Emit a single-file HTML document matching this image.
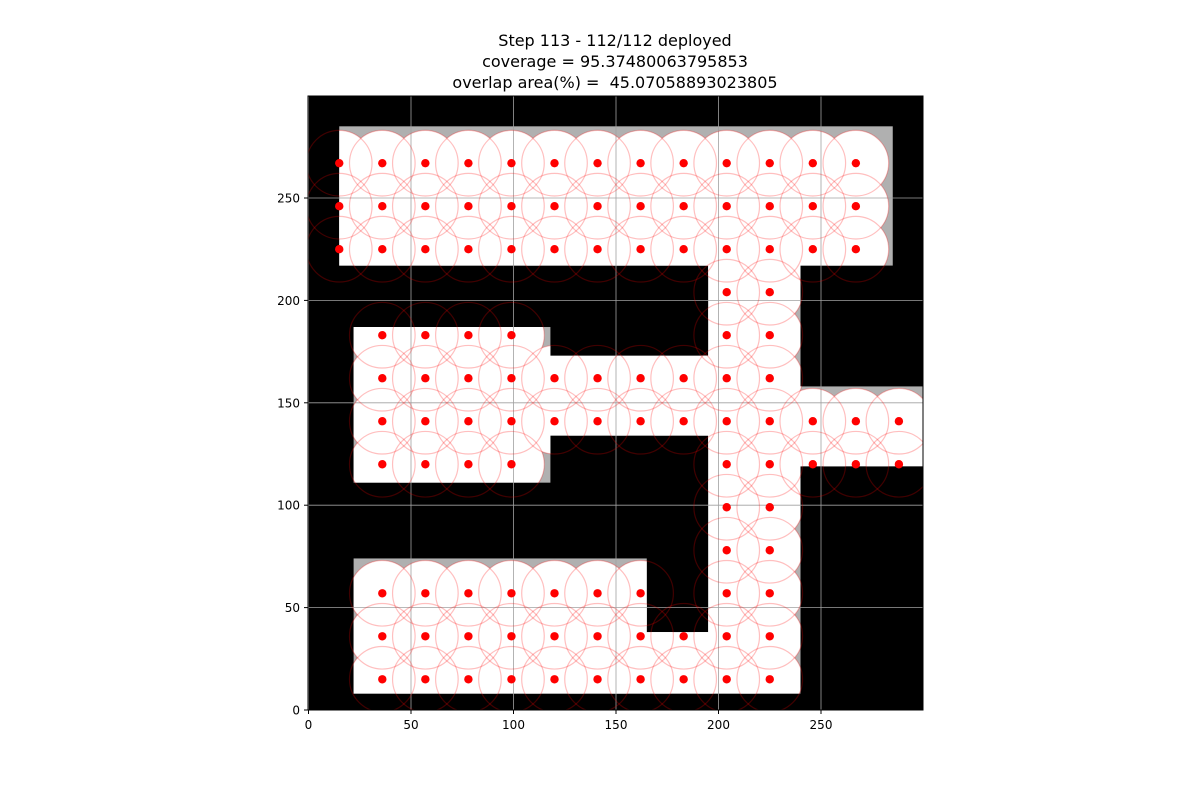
<!DOCTYPE html>
<html><head><meta charset="utf-8"><style>
body{margin:0;background:#fff;font-family:"DejaVu Sans","Liberation Sans",sans-serif}
</style></head><body>
<svg id="chart" width="1200" height="800" style="display:block;font-family:'DejaVu Sans','Liberation Sans',sans-serif">
<text x="615" y="46" text-anchor="middle" font-size="16">Step 113 - 112/112 deployed</text>
<text x="615" y="67" text-anchor="middle" font-size="16">coverage = 95.37480063795853</text>
<text x="615" y="88" text-anchor="middle" font-size="16">overlap area(%) = &#160;45.07058893023805</text>
<defs><clipPath id="plotclip"><rect x="308" y="96" width="615" height="614"/></clipPath></defs>
<g id="plot" clip-path="url(#plotclip)"></g>
<rect x="308" y="96" width="615" height="614" fill="none" stroke="#000" stroke-width="1"/>
<g id="axes"></g>
</svg>
<script>
const xTicks=[0,50,100,150,200,250];
const yTicks=[0,50,100,150,200,250];
// free-space rectangles [x0,y0,x1,y1]
const freeRects=[[15,217,285,285],[195,8,240,217],[22,111,118,187],[118,134,195,173],[240,119,300,158],[22,8,165,74],[165,8,195,38]];
const rowY=[267,246,225,204,183,162,141,120,99,78,57,36,15];
const rowXs=[
[15,36,57,78,99,120,141,162,183,204,225,246,267],
[15,36,57,78,99,120,141,162,183,204,225,246,267],
[15,36,57,78,99,120,141,162,183,204,225,246,267],
[204,225],
[36,57,78,99,204,225],
[36,57,78,99,120,141,162,183,204,225],
[36,57,78,99,120,141,162,183,204,225,246,267,288],
[36,57,78,99,204,225,246,267,288],
[204,225],
[204,225],
[36,57,78,99,120,141,162,204,225],
[36,57,78,99,120,141,162,183,204,225],
[36,57,78,99,120,141,162,183,204,225]];
const sensorRadius=16;
const NS="http://www.w3.org/2000/svg";
const sx=v=>308.5+v*2.05, sy=v=>710-v*2.048;
const plot=document.getElementById('plot'), axes=document.getElementById('axes'), svg=document.getElementById('chart');
function mk(t,a,p){const e=document.createElementNS(NS,t);for(const k in a)e.setAttribute(k,a[k]);(p||plot).appendChild(e);return e;}
const bg=mk('rect',{x:308,y:96,width:615,height:614,fill:'#000'});


const defs=svg.querySelector('defs');
const cp=mk('clipPath',{id:'freeclip'},defs);
freeRects.forEach(r=>{
 mk('rect',{x:sx(r[0]),y:sy(r[3]),width:sx(r[2])-sx(r[0]),height:sy(r[1])-sy(r[3])},cp);
 const g=mk('rect',{x:sx(r[0]),y:sy(r[3]),width:sx(r[2])-sx(r[0]),height:sy(r[1])-sy(r[3]),fill:'#b0b0b0'});
 
 
});
const pts=[];
rowY.forEach((y,i)=>rowXs[i].forEach(x=>pts.push([x,y])));
const cov=mk('g',{'clip-path':'url(#freeclip)'});
pts.forEach(p=>{mk('circle',{cx:sx(p[0]),cy:sy(p[1]),r:sensorRadius*2.05,fill:'#fff'},cov);});
xTicks.forEach(t=>{const l=mk('line',{x1:sx(t),x2:sx(t),y1:96,y2:710,stroke:'#a0a0a0','stroke-width':0.8});
 });
yTicks.forEach(t=>{const l=mk('line',{y1:sy(t),y2:sy(t),x1:308,x2:923,stroke:'#a0a0a0','stroke-width':0.8});
 });
pts.forEach(p=>{
 const c=mk('circle',{cx:sx(p[0]),cy:sy(p[1]),r:sensorRadius*2.05,fill:'none',stroke:'rgba(255,0,0,0.25)','stroke-width':1.2});
 
 
});
pts.forEach(p=>{
 const d=mk('circle',{cx:sx(p[0]),cy:sy(p[1]),r:4.2,fill:'#ff0000'});
 
 
});
xTicks.forEach(t=>{
 mk('line',{x1:sx(t),x2:sx(t),y1:710,y2:714,stroke:'#000'},axes);
 const tx=mk('text',{x:sx(t),y:729,'text-anchor':'middle','font-size':12},axes);tx.textContent=t;
 
});
yTicks.forEach(t=>{
 mk('line',{x1:304,x2:308,y1:sy(t),y2:sy(t),stroke:'#000'},axes);
 const tx=mk('text',{x:300,y:sy(t)+4.5,'text-anchor':'end','font-size':12},axes);tx.textContent=t;
 
});
</script>
</body></html>
